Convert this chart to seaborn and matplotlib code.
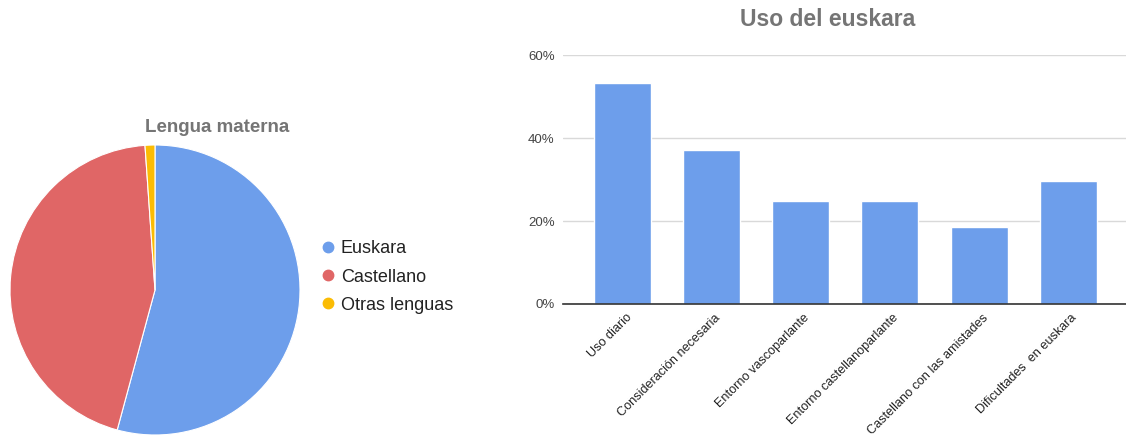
import matplotlib
matplotlib.use("Agg")
import matplotlib.pyplot as plt
import matplotlib.transforms as mtransforms
from matplotlib.lines import Line2D
from matplotlib.ticker import PercentFormatter
import pandas as pd
import seaborn as sns

# ── Data ──────────────────────────────────────────────────────────────────────
PIE_LABELS = ["Euskara", "Castellano", "Otras lenguas"]
PIE_VALUES = [54.2, 44.7, 1.1]
PIE_COLORS = ["#6d9eeb", "#e06666", "#fbbc04"]

BAR_LABELS = [
    "Uso diario",
    "Consideración necesaria",
    "Entorno vascoparlante",
    "Entorno castellanoparlante",
    "Castellano con las amistades",
    "Dificultades  en euskara",
]
BAR_VALUES = [53.2, 37.1, 24.8, 24.8, 18.6, 29.6]
BAR_COLOR = "#6d9eeb"

sns.set_theme(style="white")
plt.rcParams["font.family"] = ["Liberation Sans", "DejaVu Sans"]

fig = plt.figure(figsize=(11.26, 4.36), dpi=100)

# ── Pie: Lengua materna ───────────────────────────────────────────────────────
ax_pie = fig.add_axes([10 / 1126, 1 / 436, 290 / 1126, 290 / 436])
ax_pie.pie(
    PIE_VALUES,
    colors=PIE_COLORS,
    startangle=90,
    counterclock=False,
    wedgeprops=dict(edgecolor="white", linewidth=0.8),
)
ax_pie.set_aspect("equal")
ax_pie.set_xlim(-1.0, 1.0)
ax_pie.set_ylim(-1.0, 1.0)
fig.text(217 / 1126, 1 - 127 / 436, "Lengua materna", ha="center", va="center",
         fontsize=13.5, fontweight="bold", color="#757575")

handles = [Line2D([0], [0], marker="o", linestyle="", markersize=7.5,
                  markerfacecolor=c, markeredgecolor=c) for c in PIE_COLORS]
fig.legend(handles, PIE_LABELS, loc="center left",
           bbox_to_anchor=(301 / 1126, 1 - 277 / 436), frameon=False,
           fontsize=13, handletextpad=0.1, labelspacing=0.62,
           handlelength=1.2, labelcolor="#222222")

# ── Bars: Uso del euskara ─────────────────────────────────────────────────────
ax_bar = fig.add_axes([563 / 1126, 132 / 436, 563 / 1126, 249 / 436])
df = pd.DataFrame({"cat": BAR_LABELS, "val": BAR_VALUES})
sns.barplot(data=df, x="cat", y="val", color=BAR_COLOR, saturation=1,
            width=0.64, ax=ax_bar)
ax_bar.set_xlim(-0.67, 5.65)
ax_bar.set_ylim(0, 60)
ax_bar.set_yticks([0, 20, 40, 60])
ax_bar.yaxis.set_major_formatter(PercentFormatter(decimals=0))
ax_bar.set_xlabel("")
ax_bar.set_ylabel("")
ax_bar.grid(axis="y", color="#d9d9d9", linewidth=1)
ax_bar.set_axisbelow(True)
for side in ["top", "right", "left"]:
    ax_bar.spines[side].set_visible(False)
ax_bar.spines["bottom"].set_color("#333333")
ax_bar.spines["bottom"].set_linewidth(1.2)
ax_bar.tick_params(axis="both", length=0, labelsize=9.5, colors="#444444")
ax_bar.tick_params(axis="y", pad=6)

# rotated category labels, shifted so their end sits just right of each bar
offset = mtransforms.ScaledTranslation(7 / 100, -7 / 100, fig.dpi_scale_trans)
for lbl in ax_bar.get_xticklabels():
    lbl.set_rotation(45)
    lbl.set_ha("right")
    lbl.set_va("center")
    lbl.set_rotation_mode("anchor")
    lbl.set_fontsize(9.1)
    lbl.set_color("#222222")
    lbl.set_transform(lbl.get_transform() + offset)

fig.text(828 / 1126, 1 - 20 / 436, "Uso del euskara", ha="center", va="center",
         fontsize=16.5, fontweight="bold", color="#757575")

fig.savefig("out.png", dpi=100)
